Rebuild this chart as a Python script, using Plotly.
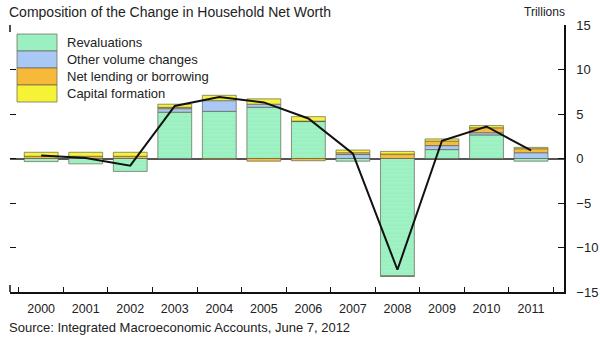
import plotly.graph_objects as go

years = ["2000", "2001", "2002", "2003", "2004", "2005", "2006", "2007", "2008", "2009", "2010", "2011"]
revaluations = [-0.35, -0.6, -1.45, 5.2, 5.3, 5.75, 4.15, -0.3, -13.2, 1.0, 2.65, -0.3]
other_volume = [0.0, 0.0, 0.0, 0.4, 1.2, 0.35, 0.05, 0.45, -0.05, 0.45, 0.25, 0.65]
net_lending = [0.25, 0.25, 0.25, 0.15, -0.1, -0.3, -0.25, 0.2, 0.5, 0.5, 0.55, 0.45]
capital_formation = [0.45, 0.45, 0.45, 0.35, 0.6, 0.6, 0.5, 0.3, 0.3, 0.25, 0.25, 0.15]
net_worth_change = [0.35, 0.05, -0.8, 5.9, 6.9, 6.3, 4.5, 0.55, -12.5, 2.0, 3.6, 0.9]
y_ticks = [-15, -10, -5, 0, 5, 10, 15]

series = [
    ("Revaluations", revaluations, "#9AF0C0", "-", "#B8F6D2"),
    ("Other volume changes", other_volume, "#A9C8F6", "", None),
    ("Net lending or borrowing", net_lending, "#F6B93A", "/", "#FAD070"),
    ("Capital formation", capital_formation, "#F6F236", "/", "#FBF890"),
]

FONT = "Liberation Sans, Arial, Helvetica, sans-serif"
TXT = "#222222"

fig = go.Figure()
for name, vals, col, pat, fg in series:
    marker = dict(color=col, line=dict(color="rgba(100,100,80,0.7)", width=1))
    if pat:
        marker["pattern"] = dict(shape=pat, fgcolor=fg, size=4, solidity=0.2, fgopacity=0.5)
    fig.add_trace(go.Bar(x=years, y=vals, name=name, marker=marker, width=0.76,
                         showlegend=False))

fig.add_trace(go.Scatter(x=years, y=net_worth_change, mode="lines",
                         line=dict(color="#111111", width=2), showlegend=False))
# invisible trace to carry the left tick axis
fig.add_trace(go.Scatter(x=years, y=net_worth_change, yaxis="y2", mode="lines",
                         line=dict(width=0), opacity=0, hoverinfo="skip", showlegend=False))

L, R, T, B = 10, 36, 25, 48
W, H = 600, 340
pw, ph = W - L - R, H - T - B

def px(x):
    return (x - L) / pw

def py(y):
    return (H - B - y) / ph

shapes = []
annotations = []
# legend swatches
sw_top = 34
sw_h = 17
for i, (name, vals, col, pat, fg) in enumerate(series):
    y0 = sw_top + i * sw_h
    shapes.append(dict(type="rect", xref="paper", yref="paper",
                       x0=px(17), x1=px(57), y0=py(y0 + sw_h), y1=py(y0),
                       fillcolor=col, line=dict(color="rgba(100,100,80,0.7)", width=1)))
    annotations.append(dict(text=name, xref="paper", yref="paper", x=px(65),
                            y=py(y0 + sw_h / 2), xanchor="left", yanchor="middle",
                            showarrow=False, font=dict(family=FONT, size=13, color=TXT)))
# left frame corners
shapes.append(dict(type="line", xref="paper", yref="paper", x0=0, x1=0,
                   y0=1, y1=py(T + 7), line=dict(color="#111111", width=1.5)))
shapes.append(dict(type="line", xref="paper", yref="paper", x0=0, x1=0,
                   y0=0, y1=py(H - B - 7), line=dict(color="#111111", width=1.5)))

annotations.append(dict(text="Composition of the Change in Household Net Worth",
                        xref="paper", yref="paper", x=px(7), y=py(12),
                        xanchor="left", yanchor="middle", showarrow=False,
                        font=dict(family=FONT, size=14, color=TXT)))
annotations.append(dict(text="Trillions", xref="paper", yref="paper", x=px(567),
                        y=py(12), xanchor="right", yanchor="middle", showarrow=False,
                        font=dict(family=FONT, size=12, color=TXT)))
annotations.append(dict(text="Source: Integrated Macroeconomic Accounts, June 7, 2012",
                        xref="paper", yref="paper", x=px(7), y=py(328),
                        xanchor="left", yanchor="middle", showarrow=False,
                        font=dict(family=FONT, size=13, color=TXT)))

fig.update_layout(
    width=W, height=H,
    margin=dict(l=L, r=R, t=T, b=B, autoexpand=False),
    paper_bgcolor="white", plot_bgcolor="white",
    barmode="relative", bargap=0.24,
    font=dict(family=FONT, size=12, color=TXT),
    shapes=shapes, annotations=annotations,
    xaxis=dict(type="category", range=[-0.7, 11.74], showline=True, linecolor="#111111",
               linewidth=1.5, ticks="inside", ticklen=5, tickcolor="#111111",
               tickson="boundaries", showgrid=False, zeroline=False, ticklabelstandoff=4,
               automargin=False, tickfont=dict(family=FONT, size=12.5, color=TXT)),
    yaxis=dict(side="right", range=[-15, 15], tickvals=y_ticks, showline=True,
               linecolor="#111111", linewidth=1.5, ticks="inside", ticklen=6,
               tickcolor="#111111", showgrid=False, zeroline=True, automargin=False,
               zerolinecolor="#555555", zerolinewidth=1.5, ticklabelstandoff=8,
               tickfont=dict(family=FONT, size=13, color=TXT)),
    yaxis2=dict(side="left", overlaying="y", range=[-15, 15], tickvals=y_ticks,
                showline=False, ticks="inside", ticklen=6, tickcolor="#111111",
                showticklabels=False, showgrid=False, zeroline=False, automargin=False),
)

fig.write_html("out.html")
